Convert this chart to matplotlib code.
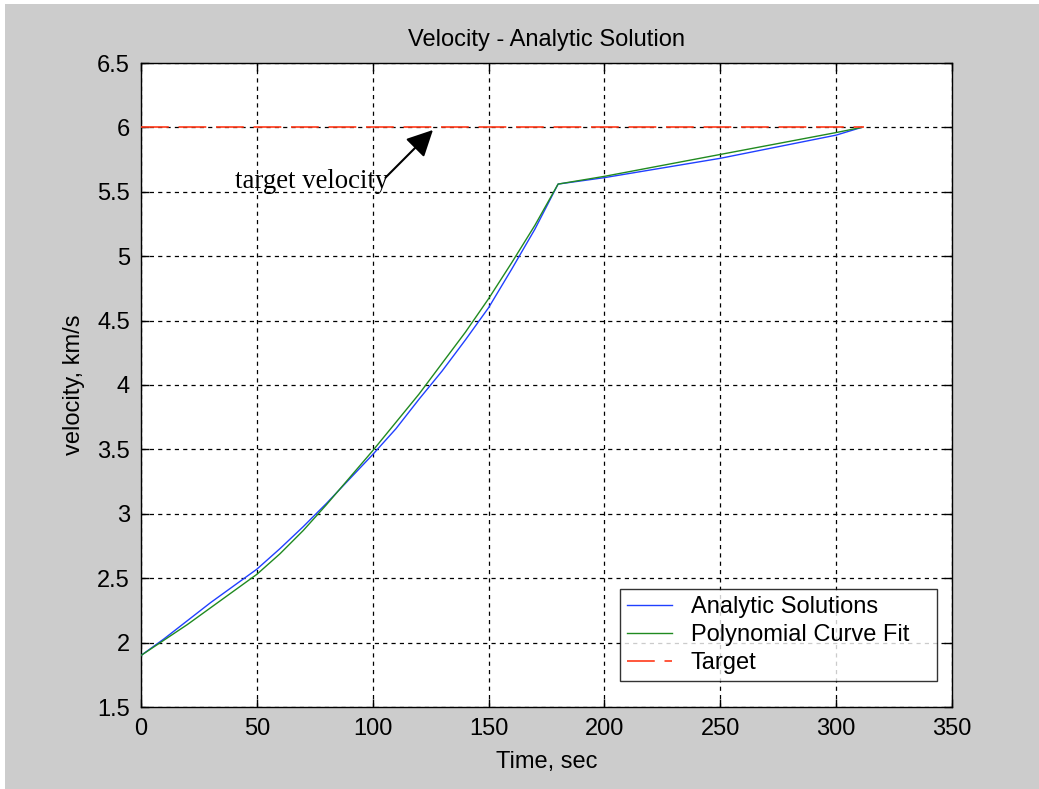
import matplotlib
matplotlib.use("Agg")
import matplotlib.pyplot as plt
from matplotlib.patches import Rectangle

# burn phase, then coast to target
time_s = [0, 10, 20, 30, 40, 50, 60, 70, 80, 90, 100, 110, 120, 130, 140,
          150, 160, 170, 180, 200, 250, 300, 311]
analytic = [1.90, 2.03, 2.17, 2.31, 2.44, 2.57, 2.73, 2.90, 3.08, 3.27, 3.46,
            3.66, 3.89, 4.11, 4.35, 4.60, 4.90, 5.21, 5.56, 5.61, 5.76, 5.94, 6.00]
poly_fit = [1.90, 2.02, 2.14, 2.27, 2.40, 2.53, 2.69, 2.87, 3.07, 3.28, 3.49,
            3.71, 3.93, 4.17, 4.41, 4.67, 4.95, 5.24, 5.56, 5.62, 5.79, 5.96, 6.00]
target_t = [0, 312]
target_v = [6.0, 6.0]

xticks = [0, 50, 100, 150, 200, 250, 300, 350]
yticks = [1.5, 2, 2.5, 3, 3.5, 4, 4.5, 5, 5.5, 6, 6.5]
ytick_labels = ["1.5", "2", "2.5", "3", "3.5", "4", "4.5", "5", "5.5", "6", "6.5"]

plt.rcParams['font.family'] = ['Liberation Sans', 'DejaVu Sans']
plt.rcParams['lines.scale_dashes'] = False

fig = plt.figure(figsize=(10.39, 7.89), dpi=100, facecolor='white')
# gray matlab figure background with a thin white strip top/left
fig.patches.append(Rectangle((5 / 1039, 0), 1, 1 - 4 / 789, transform=fig.transFigure,
                             facecolor='#cccccc', edgecolor='none', zorder=-10))

ax = fig.add_axes([141 / 1039, 1 - 707 / 789, (952 - 141) / 1039, (707 - 63) / 789])
ax.set_facecolor('white')

ax.plot(time_s, analytic, color='#2040ff', lw=1.0, label='Analytic Solutions', zorder=3)
ax.plot(time_s, poly_fit, color='#208a20', lw=1.0, label='Polynomial Curve Fit', zorder=3)
ax.plot(target_t, target_v, color='#ff3a1a', lw=1.2, dashes=(20, 7),
        label='Target', zorder=3)

ax.set_xlim(0, 350)
ax.set_ylim(1.5, 6.5)
ax.set_xticks(xticks)
ax.set_yticks(yticks)
ax.set_yticklabels(ytick_labels)
ax.tick_params(direction='in', length=6, width=1, top=True, right=True,
               labelsize=17, pad=8)
ax.grid(True, color='black', linestyle=(0, (3, 3)), lw=0.9)
ax.set_axisbelow(True)
for s in ax.spines.values():
    s.set_linewidth(1.0)

ax.set_title('Velocity - Analytic Solution', fontsize=17, pad=12)
ax.set_xlabel('Time, sec', fontsize=17, labelpad=8)
ax.set_ylabel('velocity, km/s', fontsize=17, labelpad=9)

ax.text(40.6, 5.53, 'target velocity', family=['Liberation Serif', 'DejaVu Serif'],
        fontsize=19.3, ha='left', va='baseline')
ax.annotate('', xy=(126, 5.98), xytext=(105.5, 5.61),
            arrowprops=dict(arrowstyle='-|>', mutation_scale=40, lw=1.5,
                            color='black', shrinkA=0, shrinkB=0))

# legend box stretched to the matlab legend size
leg = ax.legend(loc='lower left', mode='expand',
                bbox_to_anchor=((620 - 141) / 811, 26 / 644, 317 / 811, 92 / 644),
                fontsize=17, frameon=True, fancybox=False,
                edgecolor='black', handlelength=1.9, handletextpad=0.8,
                borderpad=0.3, labelspacing=0.25, borderaxespad=0)
leg.get_frame().set_linewidth(1.0)

plt.savefig('out.png', dpi=100, facecolor=fig.get_facecolor())
